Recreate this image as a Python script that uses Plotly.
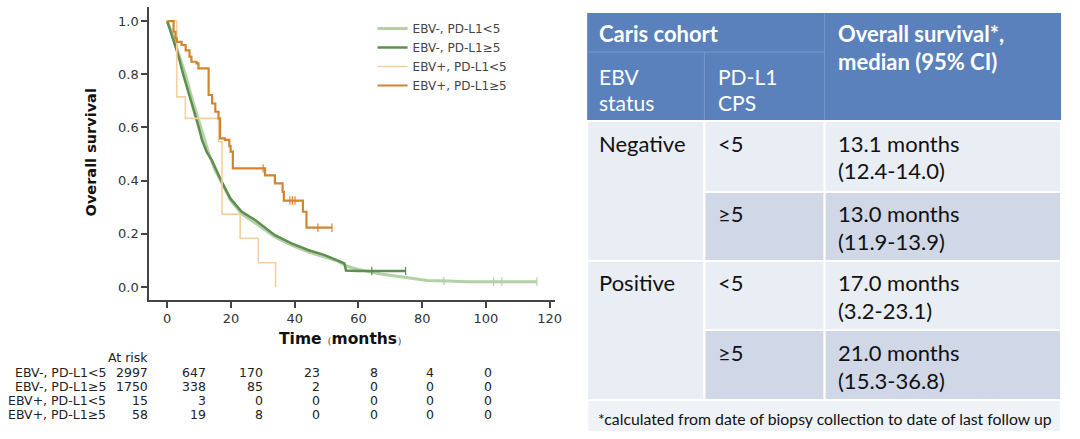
import plotly.graph_objects as go

W, H = 1080, 439

# ---------------- data ----------------
series_names = ["EBV-, PD-L1<5", "EBV-, PD-L1≥5", "EBV+, PD-L1<5", "EBV+, PD-L1≥5"]
series_colors = ["#b3d0a6", "#5e8f50", "#f5cf9f", "#d4832f"]
series_widths = [3, 2.5, 1.6, 2.2]
series_shapes = ["linear", "linear", "hv", "hv"]

t_ebvneg_low = [0, 2, 3.5, 5.7, 8, 10.5, 13.1, 15, 17.1, 20, 23.4, 27.6, 30.7, 33.8, 39, 44.2, 49.4,
                53.5, 56.6, 60, 67, 72, 77.5, 81.6, 88, 94, 116]
s_ebvneg_low = [1.0, 0.94, 0.88, 0.80, 0.70, 0.60, 0.50, 0.44, 0.39, 0.325, 0.275, 0.242, 0.215, 0.188,
                0.157, 0.132, 0.113, 0.097, 0.077, 0.066, 0.049, 0.040, 0.029, 0.024, 0.022, 0.02, 0.02]

t_ebvneg_high = [0, 2, 3.5, 5.0, 7.5, 9.9, 10.9, 12.5, 14.0, 17.1, 19.8, 23.4, 27.6, 30.7, 33.8, 39,
                 44.2, 49.4, 53.5, 55.6, 56.1, 60, 74.8]
s_ebvneg_high = [1.0, 0.93, 0.87, 0.80, 0.70, 0.60, 0.553, 0.505, 0.477, 0.396, 0.333, 0.283, 0.252,
                 0.224, 0.195, 0.164, 0.139, 0.12, 0.1, 0.089, 0.062, 0.06, 0.06]

t_ebvpos_low = [0, 3.0, 5.7, 16.1, 17.2, 22.9, 28.6, 34.0]
s_ebvpos_low = [1.0, 0.715, 0.634, 0.546, 0.274, 0.183, 0.091, 0.0]

t_ebvpos_high = [0, 2.0, 2.6, 3.0, 4.5, 5.8, 7.0, 7.6, 9.2, 9.8, 13.0, 14.1, 15.1, 16.1, 16.6, 18.1,
                 19.5, 19.9, 20.6, 30.7, 33.8, 36.2, 36.6, 42.6, 43.7, 51.7]
s_ebvpos_high = [1.0, 0.96, 0.935, 0.922, 0.91, 0.89, 0.866, 0.847, 0.841, 0.822, 0.722, 0.69, 0.659,
                 0.634, 0.559, 0.553, 0.53, 0.509, 0.446, 0.42, 0.39, 0.358, 0.325, 0.283, 0.223, 0.223]

series_t = [t_ebvneg_low, t_ebvneg_high, t_ebvpos_low, t_ebvpos_high]
series_s = [s_ebvneg_low, s_ebvneg_high, s_ebvpos_low, s_ebvpos_high]

# censor marks
cens_t = [[86.8, 102.4, 105, 116], [64.2, 74.8], [], [30.1, 38.5, 39.3, 40.1, 47.3, 51.7]]
cens_s = [[0.022, 0.02, 0.02, 0.02], [0.06, 0.06], [], [0.446, 0.325, 0.325, 0.325, 0.223, 0.223]]

x_ticks = [0, 20, 40, 60, 80, 100, 120]
y_ticks = [0.0, 0.2, 0.4, 0.6, 0.8, 1.0]

risk_header = "At risk"
risk_labels = ["EBV-, PD-L1<5", "EBV-, PD-L1≥5", "EBV+, PD-L1<5", "EBV+, PD-L1≥5"]
risk_counts = [
    [2997, 647, 170, 23, 8, 4, 0],
    [1750, 338, 85, 2, 0, 0, 0],
    [15, 3, 0, 0, 0, 0, 0],
    [58, 19, 8, 0, 0, 0, 0],
]

tbl_title = "Caris cohort"
tbl_col_ebv = ["EBV", "status"]
tbl_col_pdl1 = ["PD-L1", "CPS"]
tbl_col_os = ["Overall survival*,", "median (95% CI)"]
tbl_ebv_status = ["Negative", "Positive"]
tbl_pdl1 = ["<5", "≥5", "<5", "≥5"]
tbl_os_median = ["13.1 months", "13.0 months", "17.0 months", "21.0 months"]
tbl_os_ci = ["(12.4-14.0)", "(11.9-13.9)", "(3.2-23.1)", "(15.3-36.8)"]
tbl_footnote = "*calculated from date of biopsy collection to date of last follow up"

# ---------------- helpers ----------------
def px(x):
    return x / W


def py(y):
    return 1 - y / H


fig = go.Figure()

for name, col, w, shp, t, s in zip(series_names, series_colors, series_widths, series_shapes,
                                    series_t, series_s):
    fig.add_trace(go.Scatter(x=t, y=s, mode="lines", name=name,
                             line=dict(color=col, width=w, shape=shp)))

for col, ct, cs in zip(series_colors, cens_t, cens_s):
    if ct:
        fig.add_trace(go.Scatter(x=ct, y=cs, mode="markers", showlegend=False,
                                 marker=dict(symbol="line-ns-open", size=6, color=col,
                                             line=dict(color=col, width=1.2))))

axis_font = dict(family="DejaVu Sans", size=13, color="#333333")
fig.update_layout(
    width=W, height=H,
    margin=dict(l=0, r=0, t=0, b=0),
    paper_bgcolor="white", plot_bgcolor="white",
    showlegend=True,
    legend=dict(x=px(375), y=py(14), xanchor="left", yanchor="top",
                font=dict(family="DejaVu Sans", size=12, color="#444444"),
                bgcolor="rgba(0,0,0,0)", itemwidth=30, tracegroupgap=0),
    xaxis=dict(domain=[px(150), px(559)], range=[-5.7, 121.8], tickvals=x_ticks,
               showline=True, linecolor="#444444", linewidth=1.5, ticks="outside",
               ticklen=6, tickcolor="#444444", tickwidth=1.5, showgrid=False, zeroline=False,
               tickfont=axis_font),
    yaxis=dict(domain=[py(300), py(7)], range=[-0.049, 1.053], tickvals=y_ticks,
               tickformat=".1f",
               showline=True, linecolor="#444444", linewidth=1.5, ticks="outside",
               ticklen=6, tickcolor="#444444", tickwidth=1.5, showgrid=False, zeroline=False,
               tickfont=axis_font),
)

ann = []
shapes = []

# axis titles
ann.append(dict(x=px(345), y=py(339), xref="paper", yref="paper", showarrow=False,
                xanchor="center", yanchor="middle",
                text="<b>Time</b><span style='font-size:10px'>（</span><b>months</b><span style='font-size:10px'>）</span>",
                font=dict(family="DejaVu Sans", size=15.5, color="#111111")))
ann.append(dict(x=px(92), y=py(152), xref="paper", yref="paper", showarrow=False,
                xanchor="center", yanchor="middle",
                text="<b>Overall survival</b>", textangle=-90,
                font=dict(family="DejaVu Sans", size=14.5, color="#111111")))

# at risk table
risk_font = dict(family="DejaVu Sans", size=12.5, color="#222222")
col_right = [151, 209, 267, 324, 382, 439, 497]
row_y = [372, 386, 400, 414]
ann.append(dict(x=px(151), y=py(357), xref="paper", yref="paper", showarrow=False,
                xanchor="right", yanchor="middle", text=risk_header, font=risk_font))
for i, (lab, counts) in enumerate(zip(risk_labels, risk_counts)):
    ann.append(dict(x=px(109), y=py(row_y[i]), xref="paper", yref="paper", showarrow=False,
                    xanchor="right", yanchor="middle", text=lab, font=risk_font))
    for j, c in enumerate(counts):
        ann.append(dict(x=px(col_right[j]), y=py(row_y[i]), xref="paper", yref="paper",
                        showarrow=False, xanchor="right", yanchor="middle", text=str(c),
                        font=risk_font))

# ---------------- right table ----------------
HDR = "#5a81bb"
LIGHT = "#e9edf4"
DARK = "#d0d8e8"
FOOT = "#eff2f7"
X0, X1, X2, X3 = 591, 709, 830, 1068
Y_H0, Y_H1, Y_H2 = 13, 52, 121
row_edges = [121, 192, 261, 330, 400]
Y_F = 432


def rect(x0, y0, x1, y1, fill, lc="white", lw=2):
    shapes.append(dict(type="rect", xref="paper", yref="paper", x0=px(x0), x1=px(x1),
                       y0=py(y1), y1=py(y0), fillcolor=fill, line=dict(color=lc, width=lw),
                       layer="below"))


def line(x0, y0, x1, y1, color, w=1):
    shapes.append(dict(type="line", xref="paper", yref="paper", x0=px(x0), x1=px(x1),
                       y0=py(y0), y1=py(y1), line=dict(color=color, width=w)))


# header block
rect(X0, Y_H0, X3, Y_H2, HDR, lc=HDR, lw=0)
line(X0, Y_H1, X2, Y_H1, "rgba(255,255,255,0.18)", 1)
line(X1, Y_H1, X1, Y_H2, "rgba(255,255,255,0.18)", 1)
line(X2, Y_H0, X2, Y_H2, "rgba(255,255,255,0.18)", 1)

# body
for k in range(2):
    rect(X0, row_edges[2 * k], X1, row_edges[2 * k + 2], LIGHT)
for r in range(4):
    fill = LIGHT if r % 2 == 0 else DARK
    rect(X1, row_edges[r], X2, row_edges[r + 1], fill)
    rect(X2, row_edges[r], X3, row_edges[r + 1], fill)
rect(X0, row_edges[4], X3, Y_F, FOOT)

TF = "Lato"
hdr_bold = dict(family=TF, size=22, color="white")
hdr_reg = dict(family=TF, size=21, color="white")
body_font = dict(family=TF, size=22, color="#111111")


def txt(x, y, s, font):
    ann.append(dict(x=px(x), y=py(y), xref="paper", yref="paper", showarrow=False,
                    xanchor="left", yanchor="middle", text=s, font=font))


txt(601, 33, "<b>" + tbl_title + "</b>", hdr_bold)
txt(841, 33, "<b>" + tbl_col_os[0] + "</b>", hdr_bold)
txt(841, 62, "<b>" + tbl_col_os[1] + "</b>", hdr_bold)
txt(601, 77, tbl_col_ebv[0], hdr_reg)
txt(601, 102, tbl_col_ebv[1], hdr_reg)
txt(721, 77, tbl_col_pdl1[0], hdr_reg)
txt(721, 102, tbl_col_pdl1[1], hdr_reg)

row_text_y = [143, 213, 282, 352]
for k, st in enumerate(tbl_ebv_status):
    txt(601, row_text_y[2 * k], st, body_font)
for r in range(4):
    txt(721, row_text_y[r], tbl_pdl1[r], body_font)
    txt(841, row_text_y[r], tbl_os_median[r], body_font)
    txt(841, row_text_y[r] + 28, tbl_os_ci[r], body_font)
txt(600, 418, tbl_footnote, dict(family=TF, size=15.8, color="#111111"))

fig.update_layout(annotations=ann, shapes=shapes)
fig.write_html("out.html")
